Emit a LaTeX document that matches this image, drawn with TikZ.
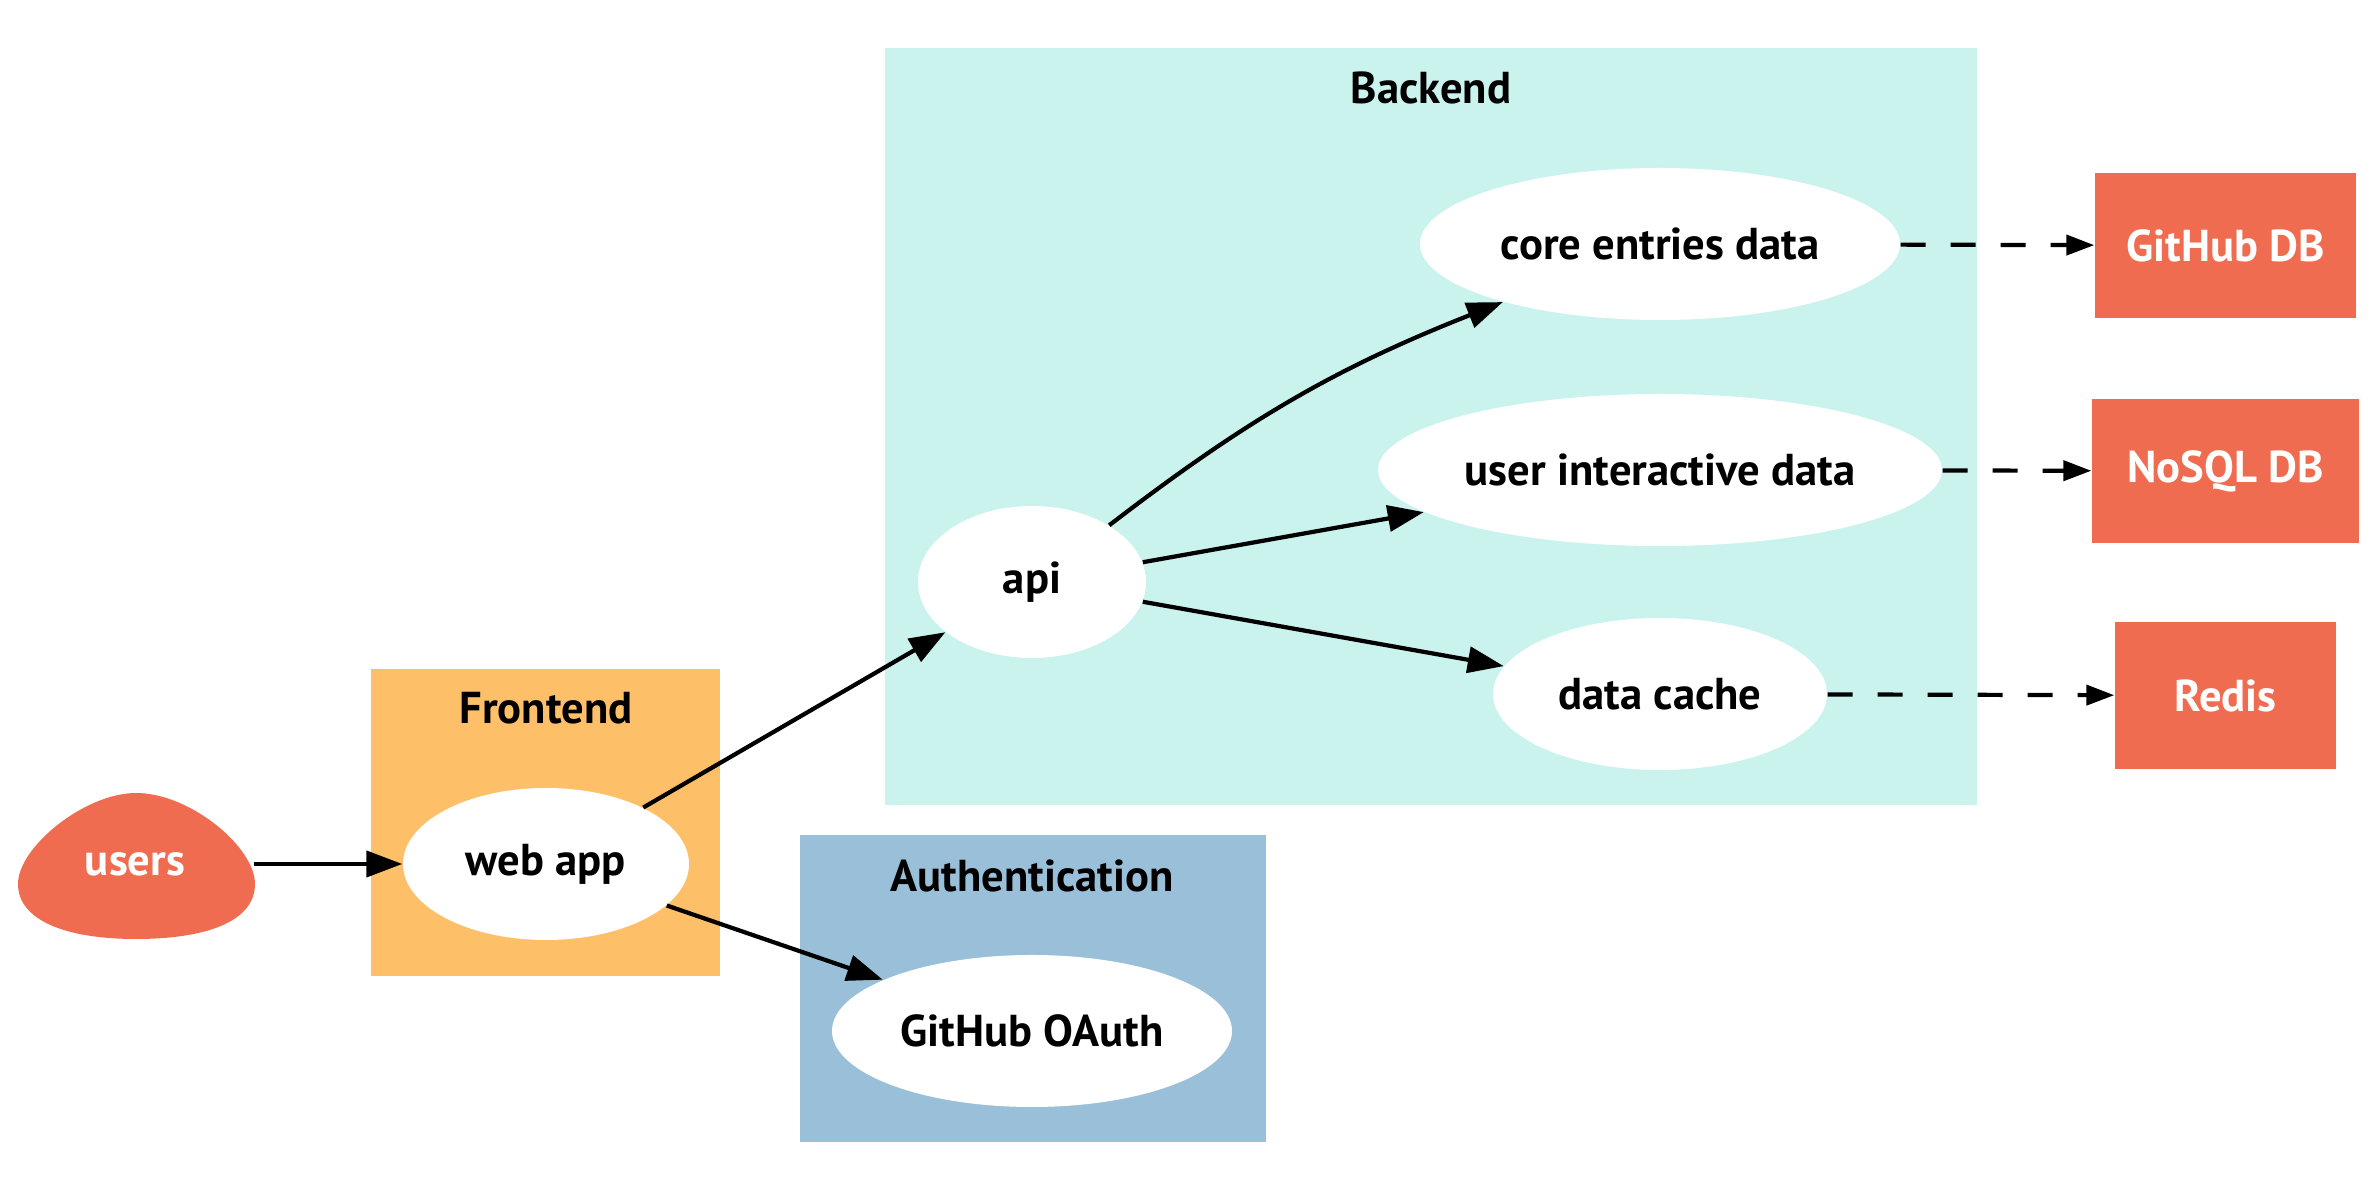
\documentclass[tikz,border=0pt]{standalone}
\usepackage{fontspec}
\setmainfont{PT Sans}
\usepackage{tikz}
\usetikzlibrary{shapes.geometric,arrows.meta}

\definecolor{backendcol}{HTML}{CBF3EE}
\definecolor{frontendcol}{HTML}{FEBF69}
\definecolor{authcol}{HTML}{9AC0D9}
\definecolor{storecol}{HTML}{EF6C50}

\tikzset{
  svc/.style={ellipse, fill=white, inner sep=0pt, minimum height=15.2mm, font=\bfseries\fontsize{12.7}{14}\selectfont},
  store/.style={rectangle, fill=storecol, text=white, inner sep=0pt, font=\bfseries\fontsize{12.7}{14}\selectfont},
  clustertitle/.style={font=\bfseries\fontsize{12.7}{14}\selectfont},
  flow/.style={-{Triangle[length=3.6mm, width=2.6mm]}, line width=1.2pt},
  dbflow/.style={-{Triangle[length=2.8mm, width=2mm]}, line width=1.2pt, dash pattern=on 2.5mm off 2.5mm}
}

\begin{document}
\begin{tikzpicture}
          \useasboundingbox (0, 0) rectangle (23.77, 11.92);
          % clusters
          \fill [backendcol] (8.85, 3.87) rectangle (19.77, 11.44);
          \fill [frontendcol] (3.71, 2.16) rectangle (7.20, 5.23);
          \fill [authcol] (8.00, 0.50) rectangle (12.66, 3.57);
          \node [clustertitle] (backendt) at (14.31, 11.04) {Backend};
          \node [clustertitle] (frontendt) at (5.46, 4.84) {Frontend};
          \node [clustertitle] (autht) at (10.32, 3.16) {Authentication};
          % users blob
          \fill [storecol] (1.36, 3.99) .. controls (1.90, 3.99) and (2.55, 3.45) .. (2.55, 3.08)
                .. controls (2.55, 2.70) and (2.05, 2.53) .. (1.36, 2.53)
                .. controls (0.65, 2.53) and (0.18, 2.72) .. (0.18, 3.08)
                .. controls (0.18, 3.45) and (0.85, 3.99) .. (1.36, 3.99);
          \node [ellipse, inner sep=0pt, minimum width=23.7mm, minimum height=14.6mm, text=white, font=\bfseries\fontsize{12.7}{14}\selectfont] (users) at (1.35, 3.28) {users};
          % services
          \node [svc, minimum width=28.6mm] (webapp) at (5.46, 3.28) {web app};
          \node [svc, minimum width=22.8mm] (api) at (10.32, 6.10) {api};
          \node [svc, minimum width=48mm] (core) at (16.60, 9.48) {core entries data};
          \node [svc, minimum width=56.4mm] (interact) at (16.60, 7.22) {user interactive data};
          \node [svc, minimum width=33.4mm] (cache) at (16.60, 4.98) {data cache};
          \node [svc, minimum width=40mm] (oauth) at (10.32, 1.61) {GitHub OAuth};
          % stores
          \node [store, minimum width=26.1mm, minimum height=14.5mm] (ghdb) at (22.255, 9.465) {GitHub DB};
          \node [store, minimum width=26.7mm, minimum height=14.4mm] (nosql) at (22.255, 7.21) {NoSQL DB};
          \node [store, minimum width=22.1mm, minimum height=14.7mm] (redis) at (22.255, 4.965) {Redis};
          % connectors
          \draw [flow] (users) -- (webapp);
          \draw [flow] (webapp) -- (api);
          \draw [flow] (webapp) -- (oauth);
          \draw [flow] (api) to [bend left=8] (core);
          \draw [flow] (api) -- (interact);
          \draw [flow] (api) -- (cache);
          \draw [dbflow] (core) -- (ghdb);
          \draw [dbflow] (interact) -- (nosql);
          \draw [dbflow] (cache) -- (redis);
        \end{tikzpicture}
\end{document}
